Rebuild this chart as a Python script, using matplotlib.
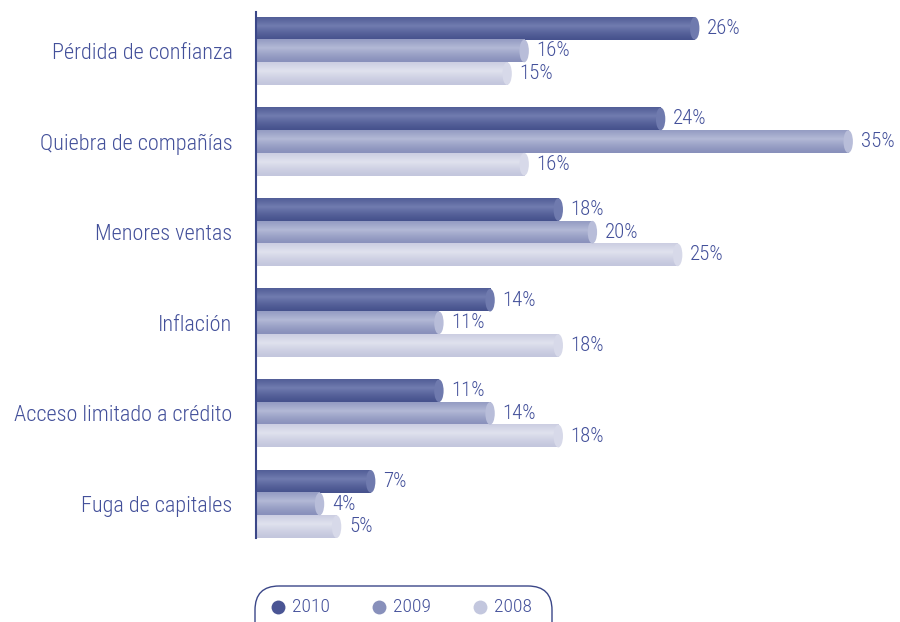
import numpy as np
import matplotlib
matplotlib.use('Agg')
import matplotlib.pyplot as plt
from matplotlib.patches import Ellipse, FancyBboxPatch
from matplotlib.colors import to_rgb

plt.rcParams['font.family'] = ['Roboto Condensed', 'DejaVu Sans']
plt.rcParams['font.weight'] = 'light'

# DATA
categories = ['Pérdida de confianza', 'Quiebra de compañías', 'Menores ventas',
              'Inflación', 'Acceso limitado a crédito', 'Fuga de capitales']
years = ['2010', '2009', '2008']
v2010 = [26, 24, 18, 14, 11, 7]
v2009 = [16, 35, 20, 11, 14, 4]
v2008 = [15, 16, 25, 18, 18, 5]
series = [v2010, v2009, v2008]

# STYLE
TEXT = '#43509a'
AXIS = '#3b4788'
edge_cols = ['#46528d', '#8890bb', '#c3c6dd']
light_cols = ['#717cb0', '#b3b9d6', '#e0e2ee']
cap_cols = ['#6f7aae', '#b8bdd9', '#d7d9e9']
legend_cols = ['#4a5594', '#8890bb', '#c3c7de']
BAR_H = 0.25
CAP_W = 0.55

fig = plt.figure(figsize=(9, 6.22), dpi=100)
ax = fig.add_axes([256 / 900, 1 - 538 / 622, (887 - 256) / 900, (538 - 12) / 622])


def gradient(c_edge, c_light, n=64):
    t = np.linspace(0, 1, n)
    w = np.clip(1 - np.abs(t - 0.38) / 0.62, 0, 1) ** 1.3
    e, l = np.array(to_rgb(c_edge)), np.array(to_rgb(c_light))
    return (e[None, :] * (1 - w[:, None]) + l[None, :] * w[:, None])[:, None, :]


for k, vals in enumerate(series):
    grad = gradient(edge_cols[k], light_cols[k])
    for i, v in enumerate(vals):
        y = i + (k - 1) * BAR_H
        x_end = v - CAP_W / 2
        ax.imshow(grad, extent=(0, x_end, y + BAR_H / 2, y - BAR_H / 2),
                  aspect='auto', interpolation='bilinear', zorder=2)
        ax.add_patch(Ellipse((x_end, y), CAP_W, BAR_H, facecolor=cap_cols[k],
                             edgecolor='none', zorder=3))
        ax.text(v + 0.45, y, f'{v}%', va='center', ha='left', fontsize=15,
                color=TEXT)

ax.set_xlim(0, 37)
ax.set_ylim(5.375, -0.43)
ax.set_yticks(range(len(categories)))
ax.set_yticklabels(categories, fontsize=16, color=TEXT)
ax.tick_params(axis='y', length=0, pad=17)
ax.set_xticks([])
for s in ['top', 'right', 'bottom']:
    ax.spines[s].set_visible(False)
ax.spines['left'].set_color(AXIS)
ax.spines['left'].set_linewidth(1.5)
ax.spines['left'].set_zorder(5)
ax.set_facecolor('none')

# legend in pixel space
lax = fig.add_axes([0, 0, 1, 1], zorder=-1)
lax.set_xlim(0, 900)
lax.set_ylim(622, 0)
lax.axis('off')
lax.add_patch(FancyBboxPatch((255, 586), 297, 60, boxstyle='round,pad=0,rounding_size=24',
                             facecolor='none', edgecolor=AXIS, linewidth=1.0))
for k, yr in enumerate(years):
    x0 = 278 + k * 101
    lax.plot(x0, 607, 'o', markersize=10, color=legend_cols[k], markeredgewidth=0)
    lax.text(x0 + 14, 607, yr, va='center', ha='left', fontsize=14, color=TEXT)

fig.savefig('out.png', dpi=100)
